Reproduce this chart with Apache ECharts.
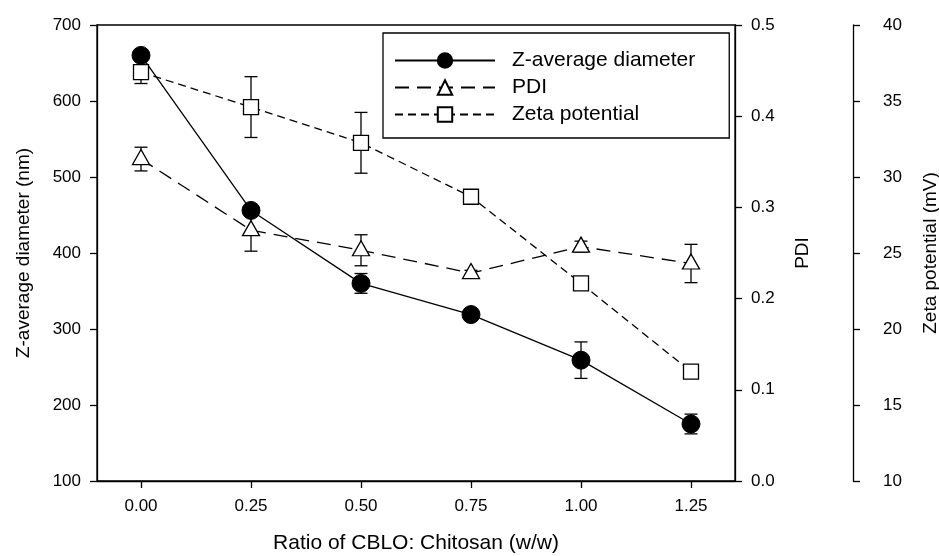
<!DOCTYPE html>
<html>
<head>
<meta charset="utf-8">
<script src="https://cdn.jsdelivr.net/npm/echarts@6/dist/echarts.min.js"></script>
<style>
  html, body { margin: 0; padding: 0; background: #fff; }
  #main { width: 939px; height: 556px; }
</style>
</head>
<body>
<div id="main"></div>
<script>
var ratio = [0, 0.25, 0.5, 0.75, 1.0, 1.25];
var xTicks = [0, 0.25, 0.5, 0.75, 1.0, 1.25];

var zAvg = [660, 456, 360, 319, 259, 175];
var zAvgErr = [6, 6, 13, 5, 24, 13];

var pdi = [0.353, 0.275, 0.253, 0.228, 0.257, 0.2385];
var pdiErr = [0.013, 0.023, 0.017, 0.003, 0.006, 0.021];

var zeta = [36.9, 34.6, 32.25, 28.7, 23.0, 17.2];
var zetaErr = [0.75, 2.0, 2.0, 0.3, 0.3, 0.3];

var FONT = 'Liberation Sans, Arial, sans-serif';
var myChart = echarts.init(document.getElementById('main'));

function pairs(ys) {
    return ratio.map(function (x, i) { return [x, ys[i]]; });
}
function errData(ys, es) {
    return ratio.map(function (x, i) { return [x, ys[i] - es[i], ys[i] + es[i]]; });
}
// vertical error bar with caps, drawn under the markers
function errSeries(ys, es, axisIdx) {
    return {
        type: 'custom',
        yAxisIndex: axisIdx,
        z: 1,
        silent: true,
        data: errData(ys, es),
        renderItem: function (params, api) {
            var lo = api.coord([api.value(0), api.value(1)]);
            var hi = api.coord([api.value(0), api.value(2)]);
            var w = 6.5;
            var st = { stroke: '#000', lineWidth: 1.3 };
            return {
                type: 'group',
                children: [
                    { type: 'line', shape: { x1: lo[0], y1: lo[1], x2: hi[0], y2: hi[1] }, style: st },
                    { type: 'line', shape: { x1: lo[0] - w, y1: lo[1], x2: lo[0] + w, y2: lo[1] }, style: st },
                    { type: 'line', shape: { x1: hi[0] - w, y1: hi[1], x2: hi[0] + w, y2: hi[1] }, style: st }
                ]
            };
        }
    };
}

var axisCommon = {
    axisLine: { show: true, onZero: false, lineStyle: { color: '#000', width: 1.3 } },
    axisTick: { show: true, length: 7, lineStyle: { color: '#000', width: 1.3 } },
    splitLine: { show: false },
    nameLocation: 'middle',
    nameTextStyle: { color: '#000', fontSize: 19, fontFamily: FONT }
};

var option = {
    animation: false,
    backgroundColor: '#fff',
    grid: {
        left: 97, right: 204, top: 25, bottom: 75,
        outerBoundsMode: 'none',
        containLabel: false,
        show: true, borderColor: '#000', borderWidth: 1.3
    },
    legend: {
        left: 383, top: 33,
        orient: 'vertical',
        padding: [17, 34, 13, 11],
        itemGap: 6,
        itemWidth: 100,
        itemHeight: 18,
        borderColor: '#000',
        borderWidth: 1.3,
        textStyle: { color: '#000', fontSize: 21, fontFamily: FONT, padding: [0, 0, 0, 12] },
        data: ['Z-average diameter', 'PDI', 'Zeta potential']
    },
    xAxis: Object.assign({}, axisCommon, {
        type: 'value',
        min: -0.1, max: 1.35,
        name: 'Ratio of CBLO: Chitosan (w/w)',
        nameGap: 52,
        nameTextStyle: { color: '#000', fontSize: 21, fontFamily: FONT },
        axisTick: { show: true, length: 7, customValues: xTicks, lineStyle: { color: '#000', width: 1.3 } },
        axisLabel: {
            customValues: xTicks, margin: 17, color: '#000', fontSize: 17, fontFamily: FONT,
            formatter: function (v) { return v.toFixed(2); }
        }
    }),
    yAxis: [
        Object.assign({}, axisCommon, {
            type: 'value', position: 'left',
            min: 100, max: 700, interval: 100,
            name: 'Z-average diameter (nm)', nameGap: 64,
            axisLabel: { margin: 16, color: '#000', fontSize: 17, fontFamily: FONT }
        }),
        Object.assign({}, axisCommon, {
            type: 'value', position: 'right',
            min: 0, max: 0.5, interval: 0.1,
            name: 'PDI', nameGap: 58,
            axisLabel: {
                margin: 16, color: '#000', fontSize: 17, fontFamily: FONT,
                formatter: function (v) { return v.toFixed(1); }
            }
        }),
        Object.assign({}, axisCommon, {
            type: 'value', position: 'right', offset: 118,
            min: 10, max: 40, interval: 5,
            name: 'Zeta potential (mV)', nameGap: 68,
            axisLabel: { margin: 30, color: '#000', fontSize: 17, fontFamily: FONT }
        })
    ],
    series: [
        errSeries(zAvg, zAvgErr, 0),
        errSeries(pdi, pdiErr, 1),
        errSeries(zeta, zetaErr, 2),
        {
            name: 'Z-average diameter',
            type: 'line',
            yAxisIndex: 0,
            data: pairs(zAvg),
            symbol: 'circle',
            symbolSize: 18,
            lineStyle: { color: '#000', width: 1.3, type: 'solid' },
            itemStyle: { color: '#000', borderColor: '#000', borderWidth: 1 }
        },
        {
            name: 'PDI',
            type: 'line',
            yAxisIndex: 1,
            data: pairs(pdi),
            symbol: 'triangle',
            symbolSize: [17, 15],
            symbolOffset: [0, -2],
            lineStyle: { color: '#000', width: 1.3, type: [14, 8] },
            itemStyle: { color: '#fff', borderColor: '#000', borderWidth: 1.3 }
        },
        {
            name: 'Zeta potential',
            type: 'line',
            yAxisIndex: 2,
            data: pairs(zeta),
            symbol: 'rect',
            symbolSize: 15,
            lineStyle: { color: '#000', width: 1.3, type: [8, 5] },
            itemStyle: { color: '#fff', borderColor: '#000', borderWidth: 1.3 }
        }
    ]
};

myChart.setOption(option);
</script>
</body>
</html>
